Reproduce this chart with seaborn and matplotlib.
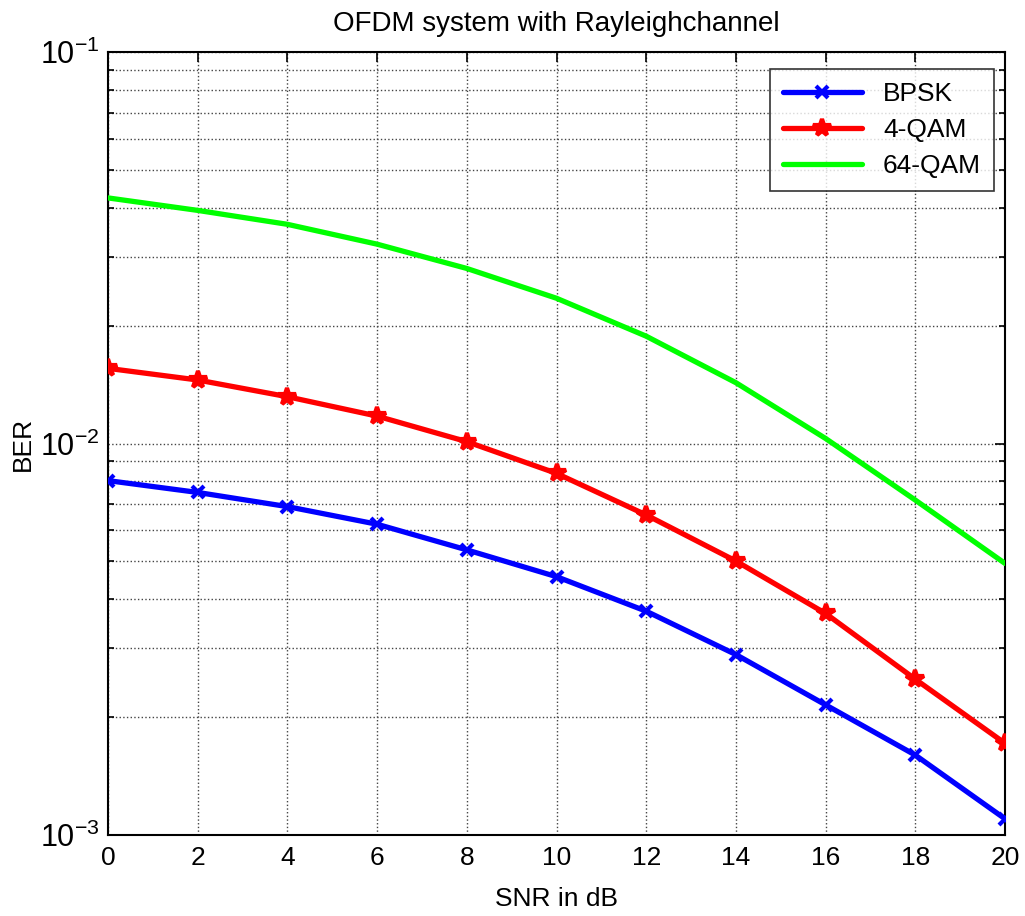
import numpy as np
import pandas as pd
import matplotlib
matplotlib.use("Agg")
import matplotlib.pyplot as plt
import seaborn as sns
from matplotlib.ticker import LogLocator, MultipleLocator, NullFormatter

snr_db = [0, 2, 4, 6, 8, 10, 12, 14, 16, 18, 20]
ber_bpsk = [8.04e-3, 7.50e-3, 6.90e-3, 6.22e-3, 5.35e-3, 4.57e-3, 3.73e-3, 2.89e-3, 2.15e-3, 1.60e-3, 1.10e-3]
ber_4qam = [1.556e-2, 1.453e-2, 1.317e-2, 1.175e-2, 1.011e-2, 8.39e-3, 6.57e-3, 5.01e-3, 3.68e-3, 2.50e-3, 1.715e-3]
ber_64qam = [4.24e-2, 3.94e-2, 3.63e-2, 3.23e-2, 2.80e-2, 2.35e-2, 1.88e-2, 1.43e-2, 1.03e-2, 7.17e-3, 4.94e-3]
series_names = ["BPSK", "4-QAM", "64-QAM"]

df = pd.DataFrame({
    "SNR": snr_db * 3,
    "BER": ber_bpsk + ber_4qam + ber_64qam,
    "Scheme": [series_names[0]] * len(snr_db) + [series_names[1]] * len(snr_db) + [series_names[2]] * len(snr_db),
})

sns.set_style("white")
plt.rcParams['font.family'] = ['Liberation Sans', 'DejaVu Sans']
plt.rcParams['mathtext.fontset'] = 'custom'
plt.rcParams['mathtext.rm'] = 'Liberation Sans'
plt.rcParams['text.color'] = 'black'
plt.rcParams['axes.labelcolor'] = 'black'
plt.rcParams['xtick.color'] = 'black'
plt.rcParams['ytick.color'] = 'black'

fig = plt.figure(figsize=(10.25, 9.16), dpi=100)
ax = fig.add_axes([0.1054, 0.0884, 0.8751, 0.8548])

colors = {"BPSK": "#0000ff", "4-QAM": "#ff0000", "64-QAM": "#00ff00"}
markers = {"BPSK": "x", "4-QAM": "*", "64-QAM": ""}
msizes = {"BPSK": 9, "4-QAM": 13, "64-QAM": 0}
for name in series_names:
    sub = df[df["Scheme"] == name]
    m = markers[name]
    sns.lineplot(data=sub, x="SNR", y="BER", ax=ax, color=colors[name], lw=3.8,
                 marker=(m if m else None), markersize=msizes[name], markeredgewidth=3.0,
                 markeredgecolor=colors[name], label=name, zorder=3)

ax.set_yscale("log")
ax.set_xlim(0, 20)
ax.set_ylim(1e-3, 1e-1)
ax.xaxis.set_major_locator(MultipleLocator(2))
ax.yaxis.set_major_locator(LogLocator(base=10))
ax.yaxis.set_minor_locator(LogLocator(base=10, subs=np.arange(2, 10)))
ax.yaxis.set_minor_formatter(NullFormatter())

ax.grid(True, which="major", axis="both", color="#444444", linestyle=":", linewidth=1.0)
ax.grid(True, which="minor", axis="y", color="#444444", linestyle=":", linewidth=1.0)

ax.tick_params(axis="x", which="major", direction="in", length=7, width=1.2,
               top=True, labelsize=19, pad=8)
ax.tick_params(axis="y", which="major", direction="in", length=7, width=1.2,
               right=True, labelsize=22, pad=6)
ax.tick_params(axis="y", which="minor", direction="in", length=4, width=1.2, right=True, left=True)
for s in ax.spines.values():
    s.set_color("black")
    s.set_linewidth(1.5)

ax.set_xlabel("SNR in dB", fontsize=19, labelpad=12)
ax.set_ylabel("BER", fontsize=19, labelpad=4)
ax.set_title("OFDM system with Rayleighchannel", fontsize=20, pad=15)

leg = ax.legend(loc="upper right", fontsize=19, frameon=True, fancybox=False,
                edgecolor="black", handlelength=3.0, borderpad=0.5, labelspacing=0.45,
                bbox_to_anchor=(0.988, 0.978), borderaxespad=0.0)
leg.get_frame().set_linewidth(1.2)

fig.savefig("out.png", dpi=100, facecolor="white")
